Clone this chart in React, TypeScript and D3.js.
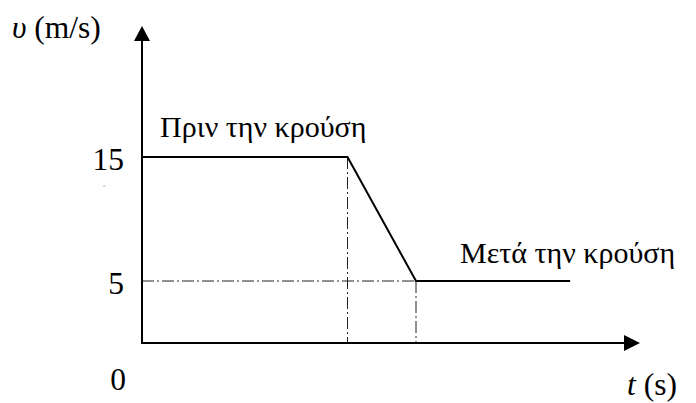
import React from "react";
import * as d3 from "d3";

// Data (time in arbitrary units, velocity in m/s)
const segTimes = [0, 3, 4, 6.25];
const segVelocities = [15, 15, 5, 5];
const yTickValues = [15, 5];
const originLabel = "0";
const labelBefore = "Πριν την κρούση";
const labelAfter = "Μετά την κρούση";

const W = 696;
const H = 403;

export default function App() {
  const x = d3.scaleLinear().domain([0, 7.27]).range([142, 640]);
  const y = d3.scaleLinear().domain([0, 15]).range([343, 157]);
  const yTop = 26;

  const pts: [number, number][] = segTimes.map((t, i) => [t, segVelocities[i]]);
  const line = d3
    .line<[number, number]>()
    .x((d) => x(d[0]))
    .y((d) => y(d[1]));

  const font = "'Liberation Serif', 'Times New Roman', serif";
  const dash = "12,3,2,3";
  const fs = 31.5;
  const fsGreek = 30;

  return (
    <svg
      width={W}
      height={H}
      style={{ position: "absolute", left: 0, top: 0, background: "#fff" }}
      fontFamily={font}
    >
      {/* guide dash-dot lines */}
      <line x1={x(0)} x2={x(segTimes[2])} y1={y(5)} y2={y(5)} stroke="#222" strokeWidth={1} strokeDasharray={dash} />
      <line x1={x(segTimes[1])} x2={x(segTimes[1])} y1={y(15)} y2={y(0)} stroke="#222" strokeWidth={1} strokeDasharray={dash} />
      <line x1={x(segTimes[2])} x2={x(segTimes[2])} y1={y(5)} y2={y(0)} stroke="#222" strokeWidth={1} strokeDasharray={dash} />

      {/* axes */}
      <line x1={x(0)} x2={x(0)} y1={y(0) + 1} y2={yTop + 14} stroke="#000" strokeWidth={2} />
      <path d={`M${x(0)},${yTop} L${x(0) - 8},${yTop + 15} L${x(0) + 8},${yTop + 15} Z`} fill="#000" />
      <line x1={x(0) - 1} x2={x(7.27) - 14} y1={y(0)} y2={y(0)} stroke="#000" strokeWidth={2} />
      <path d={`M${x(7.27)},${y(0)} L${x(7.27) - 16},${y(0) - 8} L${x(7.27) - 16},${y(0) + 8} Z`} fill="#000" />

      {/* data line */}
      <path d={line(pts) || ""} fill="none" stroke="#000" strokeWidth={2} strokeLinejoin="miter" />

      {/* tick labels */}
      {yTickValues.map((v) => (
        <text key={v} x={124} y={y(v) + 13} textAnchor="end" fontSize={fs}>
          {v}
        </text>
      ))}
      <text x={126} y={390} textAnchor="end" fontSize={fs}>
        {originLabel}
      </text>
      <line x1={103} x2={106} y1={186} y2={186} stroke="#bbb" strokeWidth={1} />

      {/* axis titles */}
      <text x={12} y={38} fontSize={fs}>
        <tspan fontStyle="italic">υ</tspan> (m/s)
      </text>
      <text x={627} y={395} fontSize={fs}>
        <tspan fontStyle="italic">t</tspan> (s)
      </text>

      {/* annotations */}
      <text x={160} y={137} fontSize={fsGreek}>
        {labelBefore}
      </text>
      <text x={460} y={263} fontSize={fsGreek}>
        {labelAfter}
      </text>
    </svg>
  );
}
